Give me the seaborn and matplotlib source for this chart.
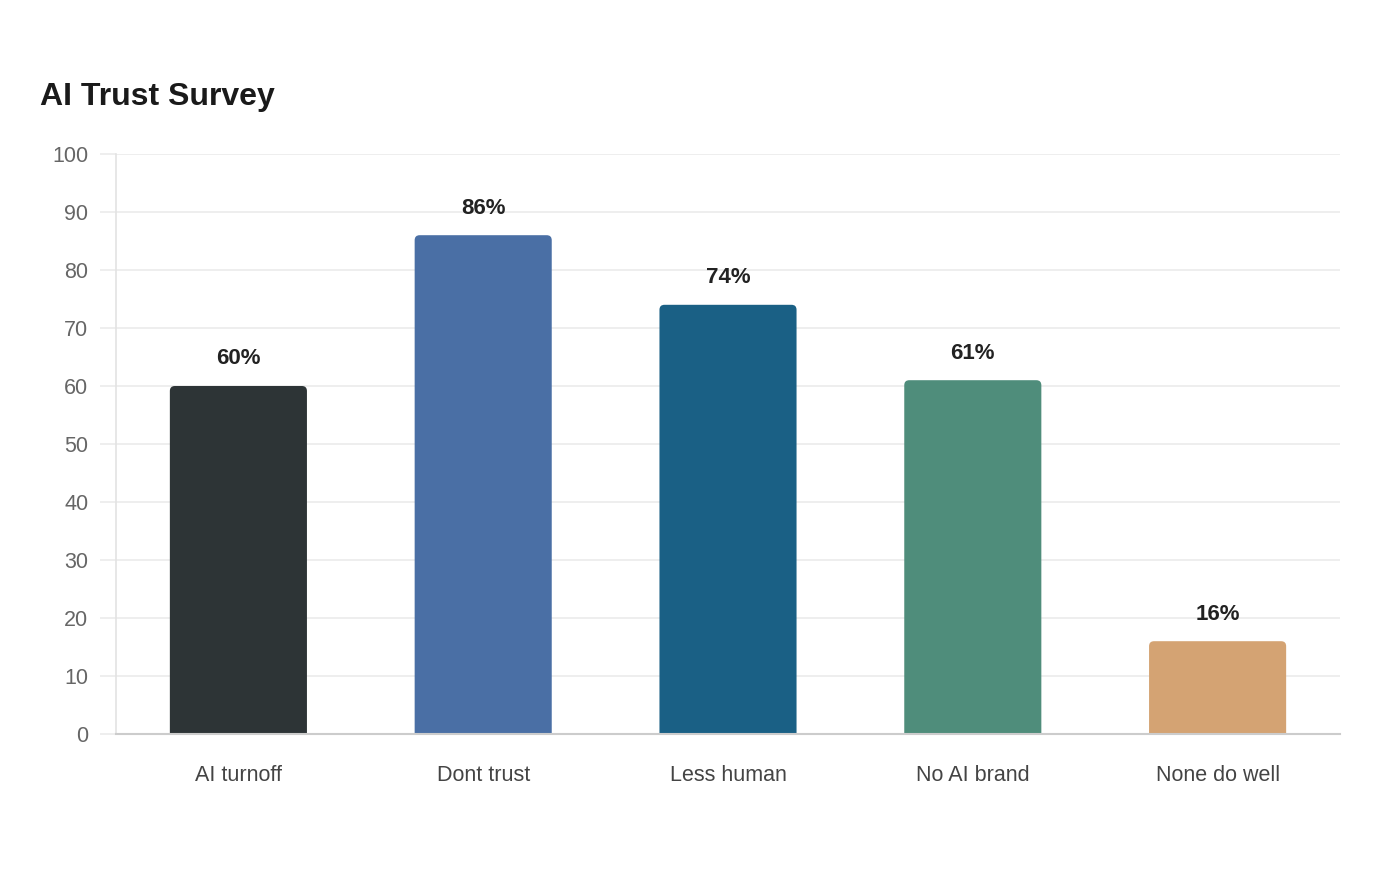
import matplotlib
matplotlib.use('Agg')
import matplotlib.pyplot as plt
from matplotlib.patches import PathPatch
from matplotlib.path import Path
import seaborn as sns
import pandas as pd

# data
categories = ['AI turnoff', 'Dont trust', 'Less human', 'No AI brand', 'None do well']
values = [60, 86, 74, 61, 16]
bar_colors = ['#2d3436', '#4a6fa5', '#1a6085', '#4f8d7b', '#d4a373']
y_ticks = [0, 10, 20, 30, 40, 50, 60, 70, 80, 90, 100]

df = pd.DataFrame({'category': categories, 'value': values})

sns.set_style('white')
plt.rcParams['font.family'] = ['Liberation Sans', 'DejaVu Sans']

fig = plt.figure(figsize=(14, 8.8), dpi=100)
ax = fig.add_axes([116 / 1400, 1 - 734 / 880, 1224 / 1400, 580 / 880])

sns.barplot(data=df, x='category', y='value', hue='category', palette=bar_colors,
            legend=False, width=0.56, saturation=1, ax=ax, zorder=3)

ax.set_xlim(-0.5, 4.5)
ax.set_ylim(0, 100)

# round the top corners of each bar (radius ~5px)
rx = 5 / (1224 / 5)
ry = 5 / (580 / 100)
for p in list(ax.patches):
    x0, y0 = p.get_x(), p.get_y()
    w, h = p.get_width(), p.get_height()
    c = p.get_facecolor()
    p.remove()
    top = y0 + h
    verts = [(x0, y0), (x0 + w, y0), (x0 + w, top - ry),
             (x0 + w, top), (x0 + w - rx, top),
             (x0 + rx, top),
             (x0, top), (x0, top - ry),
             (x0, y0)]
    codes = [Path.MOVETO, Path.LINETO, Path.LINETO,
             Path.CURVE3, Path.CURVE3,
             Path.LINETO,
             Path.CURVE3, Path.CURVE3,
             Path.CLOSEPOLY]
    ax.add_patch(PathPatch(Path(verts, codes), fc=c, ec='none', zorder=3))

for i, v in enumerate(values):
    ax.annotate(f'{v}%', (i, v), xytext=(0, 19.5), textcoords='offset points',
                ha='center', va='center', fontsize=16, fontweight='bold',
                color='#222222')

ax.set_yticks(y_ticks)
ax.yaxis.grid(True, color='#ebebeb', linewidth=1.2, zorder=0)
ax.set_axisbelow(True)
ax.tick_params(axis='y', length=11.5, color='#ebebeb', width=1.2, labelsize=15.5,
               labelcolor='#666666', pad=8.5, left=True)
ax.tick_params(axis='x', length=0, labelsize=15.5, labelcolor='#444444', pad=22)
ax.set_xlabel('')
ax.set_ylabel('')

for s in ['top', 'right']:
    ax.spines[s].set_visible(False)
ax.spines['left'].set_color('#e3e3e3')
ax.spines['left'].set_linewidth(1.2)
ax.spines['bottom'].set_color('#cccccc')
ax.spines['bottom'].set_linewidth(1.5)
ax.spines['bottom'].set_zorder(4)

fig.text(40 / 1400, 1 - 97 / 880, 'AI Trust Survey', fontsize=23, fontweight='bold',
         color='#1a1a1a', ha='left', va='center')

fig.savefig('out.png', dpi=100, facecolor='white')
